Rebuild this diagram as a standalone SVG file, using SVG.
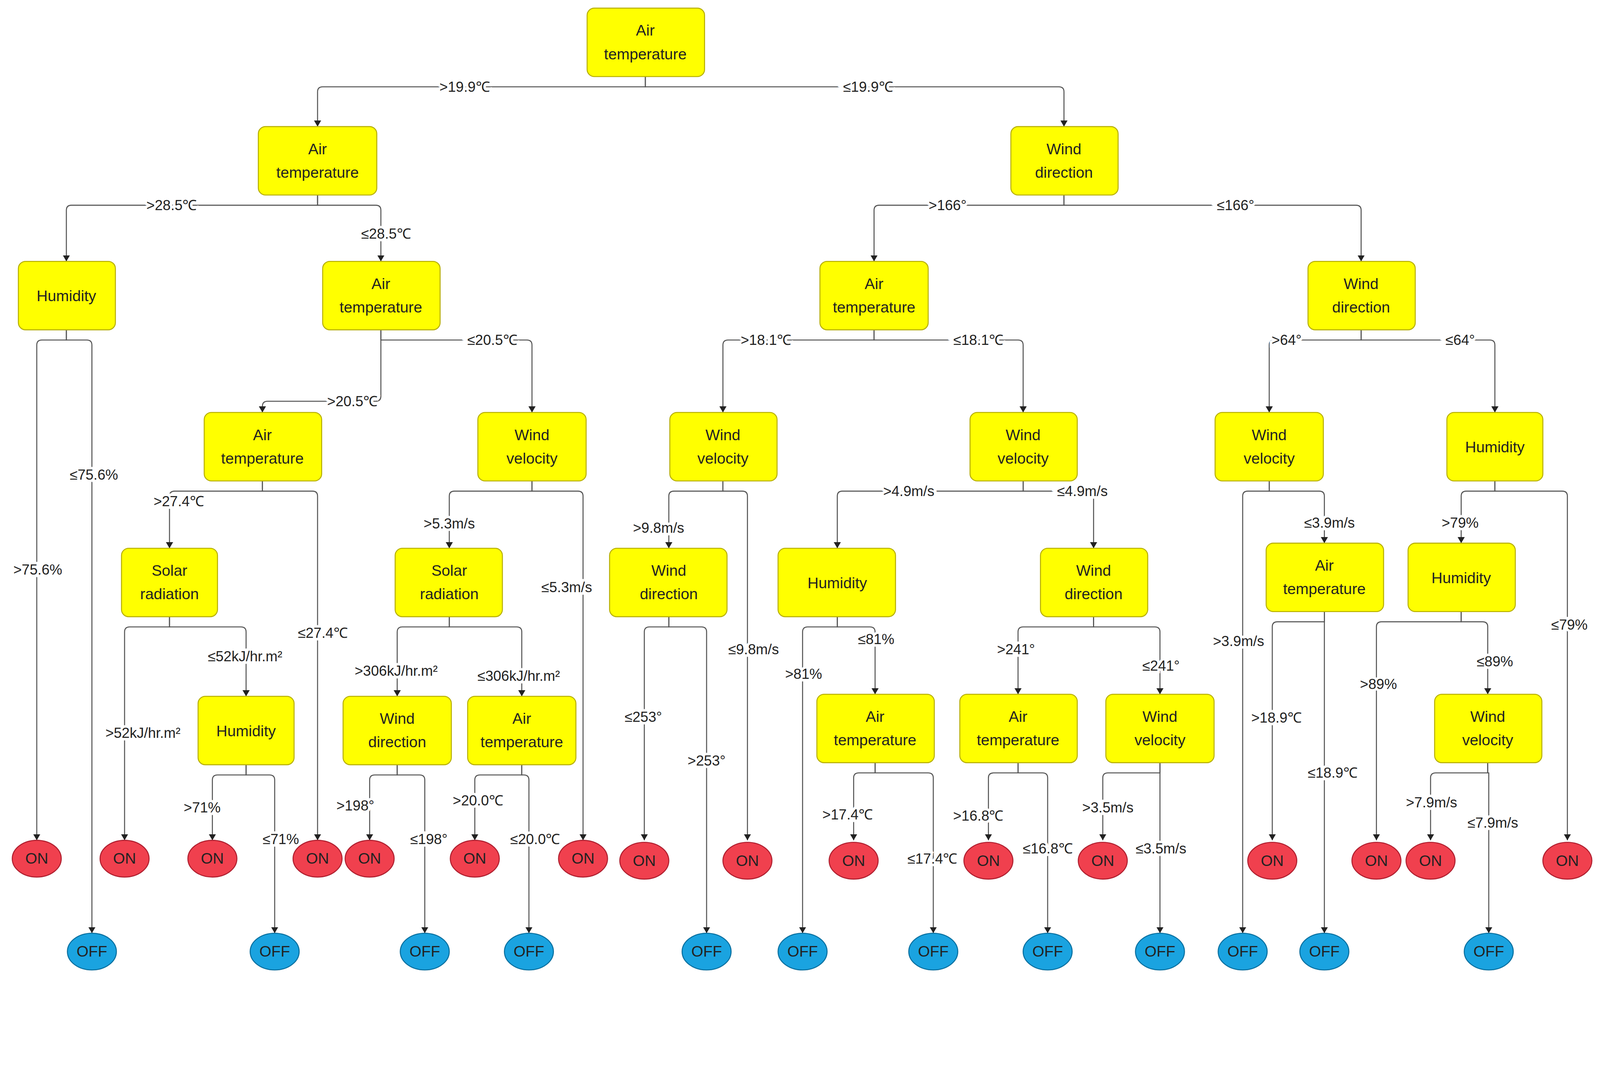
<svg xmlns="http://www.w3.org/2000/svg" width="4521" height="2765" viewBox="0 0 4521 2765">
<style>
.n rect{fill:#ffff00;stroke:#b8b000;stroke-width:1}
.n text{font-family:"Liberation Sans",Arial,sans-serif;font-size:15px;fill:#222;text-anchor:middle}
.on ellipse{fill:#f0404e;stroke:#b02030;stroke-width:1}
.off ellipse{fill:#1aa3e0;stroke:#0a70a0;stroke-width:1}
.on text,.off text{font-family:"Liberation Sans",Arial,sans-serif;font-size:15px;fill:#222;text-anchor:middle}
#edges path{fill:none;stroke:#555;stroke-width:1;marker-end:url(#ar)}
#labels text{font-family:"Liberation Sans",Arial,sans-serif;font-size:14px;fill:#222;text-anchor:middle;dominant-baseline:central;stroke:#fff;stroke-width:5;paint-order:stroke}
</style>
<defs><marker id="ar" markerWidth="6" markerHeight="7" refX="6" refY="3.5" orient="auto" markerUnits="userSpaceOnUse"><path d="M0,0 L6,3.5 L0,7z" fill="#222"/></marker></defs>
<rect width="4521" height="2765" fill="#fff"/>
<g transform="scale(2.614)">
<g id="edges">
<path d="M632 75 V85 H316 Q311 85 311 90 V124"/>
<path d="M632 75 V85 H1037 Q1042 85 1042 90 V124"/>
<path d="M311 191 V201 H70 Q65 201 65 206 V256"/>
<path d="M311 191 V201 H368 Q373 201 373 206 V256"/>
<path d="M1042 191 V201 H861 Q856 201 856 206 V256"/>
<path d="M1042 191 V201 H1328 Q1333 201 1333 206 V256"/>
<path d="M65 323 V333 H41 Q36 333 36 338 V823"/>
<path d="M65 323 V333 H85 Q90 333 90 338 V914"/>
<path d="M373 323 V333 H516 Q521 333 521 338 V404"/>
<path d="M373 323 V388 Q373 393 368 393 H262 Q257 393 257 398 V404"/>
<path d="M856 323 V333 H713 Q708 333 708 338 V404"/>
<path d="M856 323 V333 H997 Q1002 333 1002 338 V404"/>
<path d="M1333 323 V333 H1248 Q1243 333 1243 338 V404"/>
<path d="M1333 323 V333 H1459 Q1464 333 1464 338 V404"/>
<path d="M257 471 V481 H171 Q166 481 166 486 V537"/>
<path d="M257 471 V481 H306 Q311 481 311 486 V823"/>
<path d="M521 471 V481 H445 Q440 481 440 486 V537"/>
<path d="M521 471 V481 H566 Q571 481 571 486 V823"/>
<path d="M708 471 V481 H660 Q655 481 655 486 V537"/>
<path d="M708 471 V481 H727 Q732 481 732 486 V823"/>
<path d="M1002 471 V481 H825 Q820 481 820 486 V537"/>
<path d="M1002 471 V481 H1066 Q1071 481 1071 486 V537"/>
<path d="M1243 471 V481 H1222 Q1217 481 1217 486 V914"/>
<path d="M1243 471 V481 H1292 Q1297 481 1297 486 V532"/>
<path d="M1464 471 V481 H1436 Q1431 481 1431 486 V532"/>
<path d="M1464 471 V481 H1530 Q1535 481 1535 486 V823"/>
<path d="M166 604 V614 H127 Q122 614 122 619 V823"/>
<path d="M166 604 V614 H236 Q241 614 241 619 V682"/>
<path d="M440 604 V614 H394 Q389 614 389 619 V682"/>
<path d="M440 604 V614 H506 Q511 614 511 619 V682"/>
<path d="M655 604 V614 H636 Q631 614 631 619 V823"/>
<path d="M655 604 V614 H687 Q692 614 692 619 V914"/>
<path d="M820 604 V614 H791 Q786 614 786 619 V914"/>
<path d="M820 604 V614 H852 Q857 614 857 619 V680"/>
<path d="M1071 604 V614 H1002 Q997 614 997 619 V680"/>
<path d="M1071 604 V614 H1131 Q1136 614 1136 619 V680"/>
<path d="M1297 599 V609 H1251 Q1246 609 1246 614 V823"/>
<path d="M1297 599 V914"/>
<path d="M1431 599 V609 H1353 Q1348 609 1348 614 V823"/>
<path d="M1431 599 V609 H1452 Q1457 609 1457 614 V680"/>
<path d="M241 749 V759 H213 Q208 759 208 764 V823"/>
<path d="M241 749 V759 H264 Q269 759 269 764 V914"/>
<path d="M389 749 V759 H367 Q362 759 362 764 V823"/>
<path d="M389 749 V759 H411 Q416 759 416 764 V914"/>
<path d="M511 749 V759 H470 Q465 759 465 764 V823"/>
<path d="M511 749 V759 H513 Q518 759 518 764 V914"/>
<path d="M857 747 V757 H841 Q836 757 836 762 V823"/>
<path d="M857 747 V757 H909 Q914 757 914 762 V914"/>
<path d="M997 747 V757 H973 Q968 757 968 762 V823"/>
<path d="M997 747 V757 H1021 Q1026 757 1026 762 V914"/>
<path d="M1136 747 V757 H1085 Q1080 757 1080 762 V823"/>
<path d="M1136 747 V914"/>
<path d="M1457 747 V757 H1406 Q1401 757 1401 762 V823"/>
<path d="M1457 747 V757 H1458 V914"/>
</g>
<g id="labels">
<text x="455" y="85">&gt;19.9℃</text>
<text x="850" y="85">≤19.9℃</text>
<text x="168" y="201">&gt;28.5℃</text>
<text x="378" y="229">≤28.5℃</text>
<text x="482" y="333">≤20.5℃</text>
<text x="345" y="393">&gt;20.5℃</text>
<text x="37" y="558">&gt;75.6%</text>
<text x="92" y="465">≤75.6%</text>
<text x="175" y="491">&gt;27.4℃</text>
<text x="316" y="620">≤27.4℃</text>
<text x="440" y="513">&gt;5.3m/s</text>
<text x="555" y="575">≤5.3m/s</text>
<text x="750" y="333">&gt;18.1℃</text>
<text x="958" y="333">≤18.1℃</text>
<text x="1260" y="333">&gt;64°</text>
<text x="1430" y="333">≤64°</text>
<text x="928" y="201">&gt;166°</text>
<text x="1210" y="201">≤166°</text>
<text x="645" y="517">&gt;9.8m/s</text>
<text x="738" y="636">≤9.8m/s</text>
<text x="890" y="481">&gt;4.9m/s</text>
<text x="1060" y="481">≤4.9m/s</text>
<text x="1213" y="628">&gt;3.9m/s</text>
<text x="1302" y="512">≤3.9m/s</text>
<text x="1430" y="512">&gt;79%</text>
<text x="1537" y="612">≤79%</text>
<text x="140" y="718">&gt;52kJ/hr.m²</text>
<text x="240" y="643">≤52kJ/hr.m²</text>
<text x="388" y="657">&gt;306kJ/hr.m²</text>
<text x="508" y="662">≤306kJ/hr.m²</text>
<text x="630" y="702">≤253°</text>
<text x="692" y="745">&gt;253°</text>
<text x="787" y="660">&gt;81%</text>
<text x="858" y="626">≤81%</text>
<text x="995" y="636">&gt;241°</text>
<text x="1137" y="652">≤241°</text>
<text x="1250" y="703">&gt;18.9℃</text>
<text x="1305" y="757">≤18.9℃</text>
<text x="1350" y="670">&gt;89%</text>
<text x="1464" y="648">≤89%</text>
<text x="198" y="791">&gt;71%</text>
<text x="275" y="822">≤71%</text>
<text x="348" y="789">&gt;198°</text>
<text x="420" y="822">≤198°</text>
<text x="468" y="784">&gt;20.0℃</text>
<text x="524" y="822">≤20.0℃</text>
<text x="830" y="798">&gt;17.4℃</text>
<text x="913" y="841">≤17.4℃</text>
<text x="958" y="799">&gt;16.8℃</text>
<text x="1026" y="831">≤16.8℃</text>
<text x="1085" y="791">&gt;3.5m/s</text>
<text x="1137" y="831">≤3.5m/s</text>
<text x="1402" y="786">&gt;7.9m/s</text>
<text x="1462" y="806">≤7.9m/s</text>
</g>
<g id="n1" class="n"><rect x="575" y="8" width="115" height="67" rx="7"/><text x="632" y="35">Air</text><text x="632" y="58">temperature</text></g>
<g id="n2" class="n"><rect x="253" y="124" width="116" height="67" rx="7"/><text x="311" y="151">Air</text><text x="311" y="174">temperature</text></g>
<g id="n3" class="n"><rect x="990" y="124" width="105" height="67" rx="7"/><text x="1042" y="151">Wind</text><text x="1042" y="174">direction</text></g>
<g id="n4" class="n"><rect x="18" y="256" width="95" height="67" rx="7"/><text x="65" y="295">Humidity</text></g>
<g id="n5" class="n"><rect x="316" y="256" width="115" height="67" rx="7"/><text x="373" y="283">Air</text><text x="373" y="306">temperature</text></g>
<g id="n6" class="n"><rect x="803" y="256" width="106" height="67" rx="7"/><text x="856" y="283">Air</text><text x="856" y="306">temperature</text></g>
<g id="n7" class="n"><rect x="1281" y="256" width="105" height="67" rx="7"/><text x="1333" y="283">Wind</text><text x="1333" y="306">direction</text></g>
<g id="n8" class="n"><rect x="200" y="404" width="115" height="67" rx="7"/><text x="257" y="431">Air</text><text x="257" y="454">temperature</text></g>
<g id="n9" class="n"><rect x="468" y="404" width="106" height="67" rx="7"/><text x="521" y="431">Wind</text><text x="521" y="454">velocity</text></g>
<g id="n10" class="n"><rect x="656" y="404" width="105" height="67" rx="7"/><text x="708" y="431">Wind</text><text x="708" y="454">velocity</text></g>
<g id="n11" class="n"><rect x="950" y="404" width="105" height="67" rx="7"/><text x="1002" y="431">Wind</text><text x="1002" y="454">velocity</text></g>
<g id="n12" class="n"><rect x="1190" y="404" width="106" height="67" rx="7"/><text x="1243" y="431">Wind</text><text x="1243" y="454">velocity</text></g>
<g id="n13" class="n"><rect x="1417" y="404" width="94" height="67" rx="7"/><text x="1464" y="443">Humidity</text></g>
<g id="n14" class="n"><rect x="119" y="537" width="94" height="67" rx="7"/><text x="166" y="564">Solar</text><text x="166" y="587">radiation</text></g>
<g id="n15" class="n"><rect x="387" y="537" width="105" height="67" rx="7"/><text x="440" y="564">Solar</text><text x="440" y="587">radiation</text></g>
<g id="n16" class="n"><rect x="597" y="537" width="115" height="67" rx="7"/><text x="655" y="564">Wind</text><text x="655" y="587">direction</text></g>
<g id="n17" class="n"><rect x="762" y="537" width="115" height="67" rx="7"/><text x="820" y="576">Humidity</text></g>
<g id="n18" class="n"><rect x="1019" y="537" width="105" height="67" rx="7"/><text x="1071" y="564">Wind</text><text x="1071" y="587">direction</text></g>
<g id="n19" class="n"><rect x="1240" y="532" width="115" height="67" rx="7"/><text x="1297" y="559">Air</text><text x="1297" y="582">temperature</text></g>
<g id="n20" class="n"><rect x="1379" y="532" width="105" height="67" rx="7"/><text x="1431" y="571">Humidity</text></g>
<g id="n21" class="n"><rect x="194" y="682" width="94" height="67" rx="7"/><text x="241" y="721">Humidity</text></g>
<g id="n22" class="n"><rect x="336" y="682" width="106" height="67" rx="7"/><text x="389" y="709">Wind</text><text x="389" y="732">direction</text></g>
<g id="n23" class="n"><rect x="458" y="682" width="106" height="67" rx="7"/><text x="511" y="709">Air</text><text x="511" y="732">temperature</text></g>
<g id="n24" class="n"><rect x="800" y="680" width="115" height="67" rx="7"/><text x="857" y="707">Air</text><text x="857" y="730">temperature</text></g>
<g id="n25" class="n"><rect x="940" y="680" width="115" height="67" rx="7"/><text x="997" y="707">Air</text><text x="997" y="730">temperature</text></g>
<g id="n26" class="n"><rect x="1083" y="680" width="106" height="67" rx="7"/><text x="1136" y="707">Wind</text><text x="1136" y="730">velocity</text></g>
<g id="n27" class="n"><rect x="1405" y="680" width="105" height="67" rx="7"/><text x="1457" y="707">Wind</text><text x="1457" y="730">velocity</text></g>
<g id="on1" class="on"><ellipse cx="36" cy="841" rx="24" ry="18"/><text x="36" y="846">ON</text></g>
<g id="on2" class="on"><ellipse cx="122" cy="841" rx="24" ry="18"/><text x="122" y="846">ON</text></g>
<g id="on3" class="on"><ellipse cx="208" cy="841" rx="24" ry="18"/><text x="208" y="846">ON</text></g>
<g id="on4" class="on"><ellipse cx="311" cy="841" rx="24" ry="18"/><text x="311" y="846">ON</text></g>
<g id="on5" class="on"><ellipse cx="362" cy="841" rx="24" ry="18"/><text x="362" y="846">ON</text></g>
<g id="on6" class="on"><ellipse cx="465" cy="841" rx="24" ry="18"/><text x="465" y="846">ON</text></g>
<g id="on7" class="on"><ellipse cx="571" cy="841" rx="24" ry="18"/><text x="571" y="846">ON</text></g>
<g id="on8" class="on"><ellipse cx="631" cy="843" rx="24" ry="18"/><text x="631" y="848">ON</text></g>
<g id="on9" class="on"><ellipse cx="732" cy="843" rx="24" ry="18"/><text x="732" y="848">ON</text></g>
<g id="on10" class="on"><ellipse cx="836" cy="843" rx="24" ry="18"/><text x="836" y="848">ON</text></g>
<g id="on11" class="on"><ellipse cx="968" cy="843" rx="24" ry="18"/><text x="968" y="848">ON</text></g>
<g id="on12" class="on"><ellipse cx="1080" cy="843" rx="24" ry="18"/><text x="1080" y="848">ON</text></g>
<g id="on13" class="on"><ellipse cx="1246" cy="843" rx="24" ry="18"/><text x="1246" y="848">ON</text></g>
<g id="on14" class="on"><ellipse cx="1348" cy="843" rx="24" ry="18"/><text x="1348" y="848">ON</text></g>
<g id="on15" class="on"><ellipse cx="1401" cy="843" rx="24" ry="18"/><text x="1401" y="848">ON</text></g>
<g id="on16" class="on"><ellipse cx="1535" cy="843" rx="24" ry="18"/><text x="1535" y="848">ON</text></g>
<g id="off1" class="off"><ellipse cx="90" cy="932" rx="24" ry="18"/><text x="90" y="937">OFF</text></g>
<g id="off2" class="off"><ellipse cx="269" cy="932" rx="24" ry="18"/><text x="269" y="937">OFF</text></g>
<g id="off3" class="off"><ellipse cx="416" cy="932" rx="24" ry="18"/><text x="416" y="937">OFF</text></g>
<g id="off4" class="off"><ellipse cx="518" cy="932" rx="24" ry="18"/><text x="518" y="937">OFF</text></g>
<g id="off5" class="off"><ellipse cx="692" cy="932" rx="24" ry="18"/><text x="692" y="937">OFF</text></g>
<g id="off6" class="off"><ellipse cx="786" cy="932" rx="24" ry="18"/><text x="786" y="937">OFF</text></g>
<g id="off7" class="off"><ellipse cx="914" cy="932" rx="24" ry="18"/><text x="914" y="937">OFF</text></g>
<g id="off8" class="off"><ellipse cx="1026" cy="932" rx="24" ry="18"/><text x="1026" y="937">OFF</text></g>
<g id="off9" class="off"><ellipse cx="1136" cy="932" rx="24" ry="18"/><text x="1136" y="937">OFF</text></g>
<g id="off10" class="off"><ellipse cx="1217" cy="932" rx="24" ry="18"/><text x="1217" y="937">OFF</text></g>
<g id="off11" class="off"><ellipse cx="1297" cy="932" rx="24" ry="18"/><text x="1297" y="937">OFF</text></g>
<g id="off12" class="off"><ellipse cx="1458" cy="932" rx="24" ry="18"/><text x="1458" y="937">OFF</text></g>
</g>
</svg>
